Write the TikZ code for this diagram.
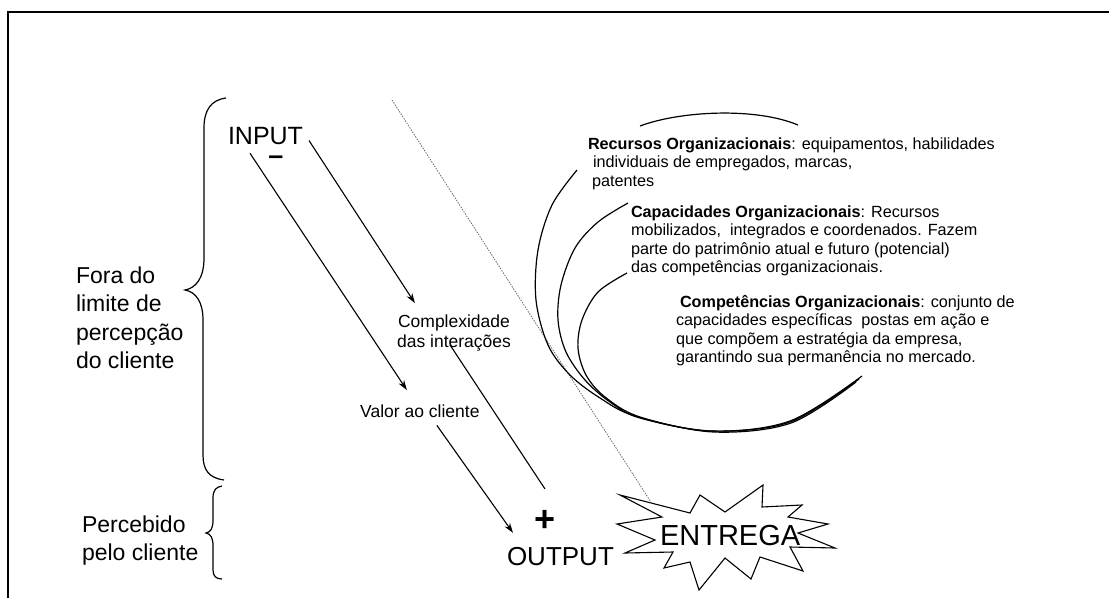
\documentclass[tikz,border=0pt]{standalone}
\usepackage{fontspec}
\setmainfont{Liberation Sans}
\usetikzlibrary{arrows.meta,calc}
\begin{document}
\begin{tikzpicture}[x=1pt,y=-1pt,
  lbl/.style={inner sep=0pt, outer sep=0pt, anchor=base west},
  arr/.style={line width=1.1pt, -{Stealth[length=10pt,width=6.5pt]}},
  conn/.style={line width=1.1pt},
  curv/.style={line width=1.2pt},
  bracepath/.style={line width=1.2pt},
  dotline/.style={line width=0.75pt, black!60, dash pattern=on 1.5pt off 1.2pt},
  blocktext/.style={lbl, align=left, font=\fontsize{16.2}{18.5}\selectfont},
  bigtext/.style={lbl, align=left, font=\fontsize{23}{28.5}\selectfont},
  midtext/.style={inner sep=0pt, font=\fontsize{17.5}{20}\selectfont}
]
\useasboundingbox (0,0) rectangle (1109,598);
\fill[white] (0,0) rectangle (1109,598);

% frame
\draw[line width=2.2pt] (8,598) -- (8,12) -- (1109,12);

% braces
\draw[bracepath] (226,98) .. controls (211,100) and (204,110) .. (204,128) -- (204,258)
  .. controls (204,278) and (196,288) .. (185,290)
  .. controls (196,292) and (203,302) .. (203,320) -- (203,455)
  .. controls (203,470) and (209,478) .. (224,480);
\draw[bracepath] (222,486) .. controls (216,487) and (213,490) .. (213,498) -- (213,520)
  .. controls (213,528) and (211,532) .. (206,533)
  .. controls (211,534) and (213,538) .. (213,546) -- (213,570)
  .. controls (213,576) and (216,579) .. (222,579);

% side labels (base anchor = baseline of last line)
\node[bigtext] (fora) at (76,368.5) {Fora do\\limite de\\percepção\\do cliente};
\node[bigtext] (perc) at (82,560.5) {Percebido\\pelo cliente};

% flow nodes
\node[lbl, font=\fontsize{25}{30}\selectfont] (input) at (228,144) {INPUT};
\node[inner sep=0pt, anchor=base, text height=9pt, text depth=0pt, font=\fontsize{27}{30}\selectfont\bfseries] (minus) at (276,164) {–};
\node[midtext, align=center, anchor=base] (cx) at (454,347) {Complexidade\\das interações};
\node[midtext, anchor=base west] (va) at (360,417) {Valor ao cliente};
\node[inner sep=0pt, font=\fontsize{36}{40}\selectfont\bfseries] (plus) at (545,521) {+};
\node[lbl, font=\fontsize{26}{30}\selectfont] (output) at (507,565) {OUTPUT};

% dotted guide line start
\coordinate (dtop) at (392,100);

% star
\draw[line width=1.1pt, line join=miter]
  (620,495) -- (690,513) -- (700,495) -- (725,512) -- (763,485) -- (762,507)
  -- (802,505) -- (788,517) -- (828,524) -- (798,533) -- (835,548) -- (790,547)
  -- (803,571) -- (760,557) -- (751,579) -- (725,558) -- (699,590) -- (690,562)
  -- (664,568) -- (673,552) -- (625,553) -- (655,540) -- (617,524) -- (662,517) -- cycle;
\node[lbl, font=\fontsize{29}{34}\selectfont] (entrega) at (660,545) {ENTREGA};

\draw[dotline] (dtop) -- ($(entrega.north west)+(-8,-21)$);

% connectors
\draw[arr] ($(input.south west)+(22,9)$) -- ($(va.north)+(-13,-14)$);
\draw[arr] ($(input.east)+(6,5)$) -- ($(cx.north west)+(18,-11)$);
\draw[conn] ($(cx.south)+(-4,-6)$) -- ($(plus.center)+(0,-32)$);
\draw[arr] ($(va.south)+(17,8)$) -- ($(output.north west)+(6,-14)$);

% curves
\draw[curv] (640,126) .. controls (680,111) and (755,107) .. (798,125);
\draw[curv] plot[smooth, tension=0.55] coordinates {(577,170) (552,205) (538,250) (536,300) (548,345) (570,375) (600,398) (635,416) (710,431) (790,421) (862,376)};
\draw[curv] plot[smooth, tension=0.55] coordinates {(628,203) (598,222) (575,248) (561,285) (558,320) (566,352) (585,380) (610,402) (640,418) (712,431) (790,422) (859,379)};
\draw[curv] plot[smooth, tension=0.55] coordinates {(627,273) (598,292) (582,320) (578,348) (586,375) (605,397) (640,417) (714,432) (791,423) (856,382)};

% text blocks (base anchor = baseline of last line)
\node[blocktext] (rec) at (588,186) {\textbf{Recursos Organizacionais}: equipamentos, habilidades\\\hspace*{5pt}individuais de empregados, marcas,\\\hspace*{4pt}patentes};
\node[blocktext] (cap) at (631,272.5) {\textbf{Capacidades Organizacionais}: Recursos\\mobilizados,\ \ integrados e coordenados. Fazem\\parte do patrimônio atual e futuro (potencial)\\das competências organizacionais.};
\node[blocktext] (comp) at (676,362.5) {\hspace*{4pt}\textbf{Competências Organizacionais}: conjunto de\\capacidades específicas\ \ postas em ação e\\que compõem a estratégia da empresa,\\garantindo sua permanência no mercado.};
\end{tikzpicture}
\end{document}
